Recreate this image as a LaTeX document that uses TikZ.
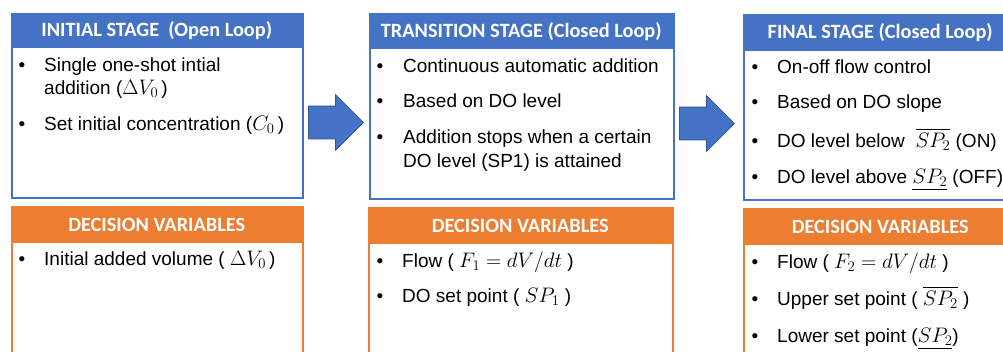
\documentclass[tikz,border=0pt]{standalone}
\usepackage{fix-cm}
\usepackage{amsmath}
\usepackage{fontspec}
\setmainfont{Liberation Sans}
\newfontfamily\headfont{Carlito}
\usetikzlibrary{positioning,shapes.arrows}
\definecolor{stageBlue}{HTML}{4472C4}
\definecolor{stageEdge}{HTML}{2F5597}
\definecolor{decOrange}{HTML}{ED7D31}
% math set a little larger, as in the slides
\newcommand{\mvar}[1]{{\fontsize{21}{22}\selectfont$#1$}}
\tikzset{
    % Frames and header bars
    stageFrame/.style={rectangle, draw=stageBlue, line width=1.6pt, fill=white, anchor=north west, inner sep=0pt},
    decFrame/.style={stageFrame, draw=decOrange},
    stageHead/.style={rectangle, fill=stageBlue, text=white, anchor=north west, inner sep=0pt,
        font=\headfont\bfseries\fontsize{20.3}{22}\selectfont},
    decHead/.style={stageHead, fill=decOrange},
    % Items
    itemText/.style={anchor=base west, inner sep=0pt, font=\fontsize{19}{22}\selectfont},
    itemDot/.style={anchor=base, inner sep=0pt, font=\fontsize{19}{22}\selectfont},
    % Block arrows
    stepArrow/.style={single arrow, draw=stageEdge, fill=stageBlue, line width=0.8pt,
        minimum height=55pt, inner xsep=0pt, inner ysep=16pt, single arrow head extend=11.5pt,
        single arrow tip angle=90, anchor=tail}
}
\begin{document}
\begin{tikzpicture}[x=1pt, y=-1pt]
\useasboundingbox (0,0) rectangle (1003,351);

% Initial stage
\node[stageFrame, minimum width=291pt, minimum height=184pt] (initBox) at (11,13) {};
\node[stageHead, minimum width=291pt, minimum height=35pt] (initHead) at (initBox.north west) {INITIAL STAGE\ \ (Open Loop)};
\node[itemDot] (i1d) at (22,71) {\textbullet};
\node[itemText] (i1) at (44,71) {Single one-shot intial};
\node[itemText] (i1b) at (44,94) {addition (\mvar{\Delta V_0}\,)};
\node[itemDot] (i2d) at (22,130) {\textbullet};
\node[itemText] (i2) at (44,130) {Set initial concentration (\mvar{C_0}\,)};

% Transition stage
\node[stageFrame, minimum width=304pt, minimum height=185pt] (transBox) at (369,13) {};
\node[stageHead, minimum width=304pt, minimum height=36pt] (transHead) at (transBox.north west) {TRANSITION STAGE (Closed Loop)};
\node[itemDot] (t1d) at (380,72) {\textbullet};
\node[itemText] (t1) at (403,72) {Continuous automatic addition};
\node[itemDot] (t2d) at (380,107) {\textbullet};
\node[itemText] (t2) at (403,107) {Based on DO level};
\node[itemDot] (t3d) at (380,143) {\textbullet};
\node[itemText] (t3) at (403,143) {Addition stops when a certain};
\node[itemText] (t3b) at (403,167) {DO level (SP1) is attained};

% Final stage
\node[stageFrame, minimum width=274pt, minimum height=185pt] (finBox) at (743,14) {};
\node[stageHead, minimum width=274pt, minimum height=37pt] (finHead) at (finBox.north west) {FINAL STAGE (Closed Loop)};
\node[itemDot] (f1d) at (755,73) {\textbullet};
\node[itemText] (f1) at (777,73) {On-off flow control};
\node[itemDot] (f2d) at (755,108) {\textbullet};
\node[itemText] (f2) at (777,108) {Based on DO slope};
\node[itemDot] (f3d) at (755,147) {\textbullet};
\node[itemText] (f3) at (777,147) {DO level below\ \ \mvar{\overline{SP_2}} (ON)};
\node[itemDot] (f4d) at (755,183) {\textbullet};
\node[itemText] (f4) at (777,183) {DO level above \mvar{\underline{SP_2}} (OFF)};

% Decision variables
\node[decFrame, minimum width=291pt, minimum height=160pt] (initDec) at (11,206) {};
\node[decHead, minimum width=291pt, minimum height=37pt] (initDecHead) at (initDec.north west) {DECISION VARIABLES};
\node[itemDot] (d1d) at (22,265) {\textbullet};
\node[itemText] (d1) at (44,265) {Initial added volume ( \mvar{\Delta V_0}\,)};

\node[decFrame, minimum width=304pt, minimum height=160pt] (transDec) at (368,207) {};
\node[decHead, minimum width=304pt, minimum height=37pt] (transDecHead) at (transDec.north west) {DECISION VARIABLES};
\node[itemDot] (e1d) at (380,267) {\textbullet};
\node[itemText] (e1) at (402,267) {Flow ( \mvar{F_1 = dV/dt}\ )};
\node[itemDot] (e2d) at (380,302) {\textbullet};
\node[itemText] (e2) at (402,302) {DO set point ( \mvar{SP_1}\ )};

\node[decFrame, minimum width=274pt, minimum height=160pt] (finDec) at (743,208) {};
\node[decHead, minimum width=274pt, minimum height=37pt] (finDecHead) at (finDec.north west) {DECISION VARIABLES};
\node[itemDot] (g1d) at (755,268) {\textbullet};
\node[itemText] (g1) at (777,268) {Flow ( \mvar{F_2 = dV/dt}\ )};
\node[itemDot] (g2d) at (755,305) {\textbullet};
\node[itemText] (g2) at (777,305) {Upper set point ( \mvar{\overline{SP_2}}\ )};
\node[itemDot] (g3d) at (755,342) {\textbullet};
\node[itemText] (g3) at (777,342) {Lower set point (\mvar{\underline{SP_2}})};

% Stage arrows
\node[stepArrow] (arrowA) at (308,122.5) {};
\node[stepArrow] (arrowB) at (679,123.5) {};
\end{tikzpicture}
\end{document}
